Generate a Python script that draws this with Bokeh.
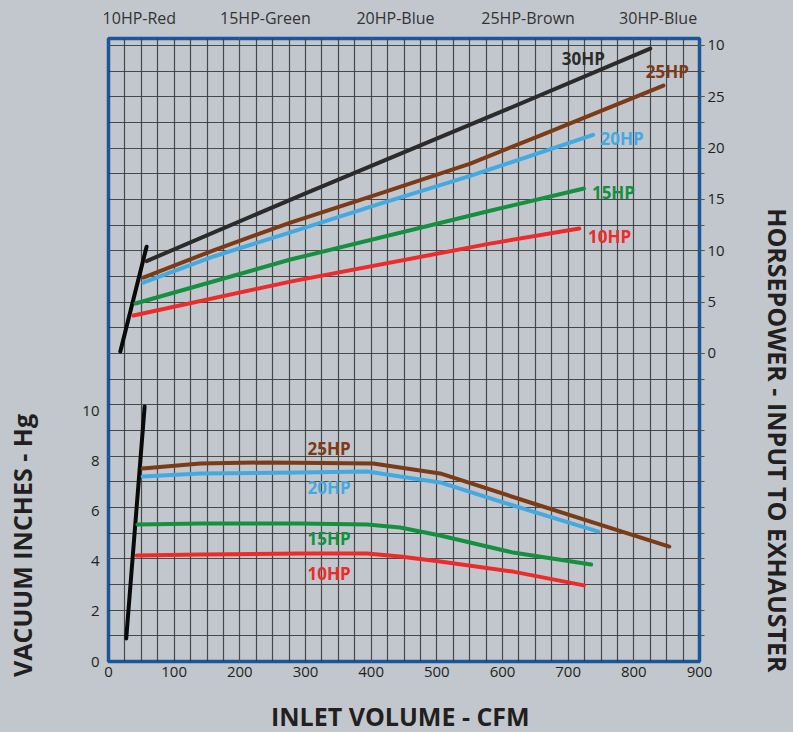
from bokeh.plotting import figure
from bokeh.models import Range1d, LinearAxis, FixedTicker, Grid
from bokeh.core.properties import value
from bokeh.embed import file_html
from bokeh.resources import INLINE

# ---------------- data ----------------
cfm_ticks = [0, 100, 200, 300, 400, 500, 600, 700, 800, 900]
vac_ticks = [0, 2, 4, 6, 8, 10]
hp_ticks = [0, 5, 10, 15, 20, 25, 30]
hp_tick_overrides = {30: "10"}

legend_texts = ["10HP-Red", "15HP-Green", "20HP-Blue", "25HP-Brown", "30HP-Blue"]
legend_cfm = [47, 239, 437, 639, 837]

x_title = "INLET VOLUME - CFM"
left_title = "VACUUM INCHES - Hg"
right_title = "HORSEPOWER - INPUT TO EXHAUSTER"

# Horsepower curves (upper part, right axis)
hp_steep_cfm = [18, 58]
hp_steep_val = [0.2, 10.4]
hp30_cfm = [58, 300, 600, 825]
hp30_val = [9.0, 15.6, 23.6, 29.7]
hp25_cfm = [53, 160, 277, 414, 551, 660, 845]
hp25_val = [7.4, 10.05, 12.75, 15.6, 18.5, 21.3, 26.1]
hp20_cfm = [53, 160, 277, 414, 551, 738]
hp20_val = [6.9, 9.45, 11.8, 14.6, 17.3, 21.3]
hp15_cfm = [41, 277, 581, 724]
hp15_val = [4.87, 9.15, 13.9, 16.07]
hp10_cfm = [38, 277, 581, 717]
hp10_val = [3.7, 7.0, 10.7, 12.17]

# Vacuum curves (lower part, left axis)
vac_steep_cfm = [27, 55]
vac_steep_val = [0.92, 10.18]
vac25_cfm = [52, 140, 242, 403, 505, 647, 854]
vac25_val = [7.71, 7.91, 7.95, 7.91, 7.51, 6.31, 4.59]
vac20_cfm = [52, 140, 292, 394, 444, 505, 616, 746]
vac20_val = [7.39, 7.51, 7.55, 7.59, 7.39, 7.15, 6.23, 5.19]
vac15_cfm = [44, 140, 292, 394, 444, 505, 616, 735]
vac15_val = [5.47, 5.51, 5.51, 5.47, 5.35, 5.03, 4.35, 3.87]
vac10_cfm = [43, 140, 292, 394, 444, 505, 616, 724]
vac10_val = [4.23, 4.27, 4.31, 4.31, 4.19, 3.99, 3.59, 3.04]

hp_label_text = ["30HP", "25HP", "20HP", "15HP", "10HP"]
hp_label_cfm = [723, 851, 782, 769, 763]
hp_label_val = [28.7, 27.46, 20.9, 15.7, 11.4]
vac_label_text = ["25HP", "20HP", "15HP", "10HP"]
vac_label_cfm = [336, 336, 336, 336]
vac_label_val = [8.51, 6.95, 4.91, 3.51]

x_grid = list(range(25, 900, 25))
y_grid = [-27.5 + 2.5 * i for i in range(24)]
hp_minor = [-27.5 + 2.5 * i for i in range(24)]

# title anchor positions (data units along their axes)
x_title_at = 444.4
left_title_at = -18.7
right_title_at = -8.47

# ---------------- style ----------------
BG = "#c1c7cd"
GRID = "#3a3a3a"
FRAME = "#1d5599"
TXT = "#231f20"
C_BLACK = "#0a0a0a"
C30 = "#2b2b2b"
C25 = "#7b3b17"
C20 = "#44a9e0"
C15 = "#14903f"
C10 = "#ee2b2b"
FONT = "Open Sans"

p = figure(width=798, height=745,
           x_range=Range1d(0, 900), y_range=Range1d(-30.0, 30.68),
           x_axis_location=None, y_axis_location=None,
           toolbar_location=None, output_backend="svg", title=None,
           min_border_left=108, min_border_right=99,
           min_border_top=38, min_border_bottom=84,
           background_fill_color=BG, border_fill_color=BG,
           outline_line_color=FRAME, outline_line_width=3.5)
p.extra_y_ranges = {"vac": Range1d(0, 24.88)}

p.add_layout(Grid(dimension=0, ticker=FixedTicker(ticks=x_grid),
                  grid_line_color=GRID, grid_line_width=1.2, grid_line_alpha=0.9))
p.add_layout(Grid(dimension=1, ticker=FixedTicker(ticks=y_grid),
                  grid_line_color=GRID, grid_line_width=1.2, grid_line_alpha=0.9))


def plain_axis(ax, standoff, size="15px", bold=False, color=TXT):
    ax.axis_line_color = None
    ax.major_tick_line_color = None
    ax.minor_tick_line_color = None
    ax.major_tick_in = 0
    ax.major_tick_out = 0
    ax.minor_tick_in = 0
    ax.minor_tick_out = 0
    ax.major_label_text_font = FONT
    ax.major_label_text_font_size = size
    ax.major_label_text_font_style = "bold" if bold else "normal"
    ax.major_label_text_color = color
    ax.major_label_standoff = standoff


# bottom: tick labels, then title
xa = LinearAxis(ticker=FixedTicker(ticks=cfm_ticks))
plain_axis(xa, 5)
p.add_layout(xa, "below")
xt = LinearAxis(ticker=FixedTicker(ticks=[x_title_at]))
plain_axis(xt, 19, "25px", True)
xt.major_label_overrides = {x_title_at: x_title}
p.add_layout(xt, "below")

# top: legend line
ta = LinearAxis(ticker=FixedTicker(ticks=legend_cfm))
plain_axis(ta, 10, "16px", False, "#333333")
ta.major_label_overrides = dict(zip(legend_cfm, legend_texts))
p.add_layout(ta, "above")

# left: vacuum axis, then title
la = LinearAxis(y_range_name="vac", ticker=FixedTicker(ticks=vac_ticks))
plain_axis(la, 9)
p.add_layout(la, "left")
lt = LinearAxis(ticker=FixedTicker(ticks=[left_title_at]))
plain_axis(lt, 40, "25px", True)
lt.major_label_orientation = "vertical"
lt.major_label_overrides = {left_title_at: left_title}
p.add_layout(lt, "left")

# right: horsepower axis, then title
ra = LinearAxis(ticker=FixedTicker(ticks=hp_ticks, minor_ticks=hp_minor))
plain_axis(ra, 3)
ra.major_label_overrides = hp_tick_overrides
ra.major_tick_line_color = "#555555"
ra.minor_tick_line_color = "#555555"
ra.major_tick_out = 5
ra.minor_tick_out = 5
p.add_layout(ra, "right")
rt = LinearAxis(ticker=FixedTicker(ticks=[right_title_at]))
plain_axis(rt, 33, "25px", True)
rt.major_label_orientation = "vertical"
rt.major_label_overrides = {right_title_at: right_title}
p.add_layout(rt, "right")

# upper curves
for xs, ys, c in [(hp_steep_cfm, hp_steep_val, C_BLACK), (hp30_cfm, hp30_val, C30),
                  (hp25_cfm, hp25_val, C25), (hp20_cfm, hp20_val, C20),
                  (hp15_cfm, hp15_val, C15), (hp10_cfm, hp10_val, C10)]:
    p.line(xs, ys, line_color=c, line_width=4, line_cap="round", line_join="round")

# lower curves
for xs, ys, c in [(vac_steep_cfm, vac_steep_val, C_BLACK), (vac25_cfm, vac25_val, C25),
                  (vac20_cfm, vac20_val, C20), (vac15_cfm, vac15_val, C15),
                  (vac10_cfm, vac10_val, C10)]:
    p.line(xs, ys, line_color=c, line_width=4, line_cap="round", line_join="round",
           y_range_name="vac")

p.text(x=hp_label_cfm, y=hp_label_val, text=hp_label_text,
       text_color=[C30, C25, C20, C15, C10], text_font=value(FONT),
       text_font_size="17px", text_font_style="bold",
       text_align="center", text_baseline="middle")
p.text(x=vac_label_cfm, y=vac_label_val, text=vac_label_text,
       text_color=[C25, C20, C15, C10], text_font=value(FONT),
       text_font_size="17px", text_font_style="bold",
       text_align="center", text_baseline="middle", y_range_name="vac")

html = file_html(p, INLINE, title="Exhauster chart")
html = html.replace("</head>",
                    "<style>html,body{margin:0;padding:0;background:%s;overflow:hidden;}</style></head>" % BG, 1)
open("out.html", "w").write(html)
